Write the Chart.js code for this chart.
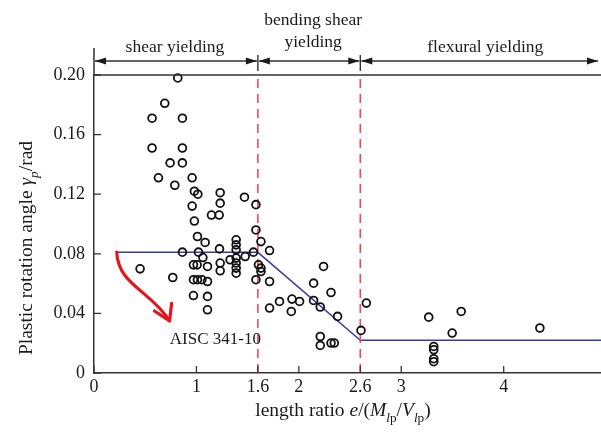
<!DOCTYPE html>
<html>
<head>
<meta charset="utf-8">
<script src="https://cdn.jsdelivr.net/npm/chart.js@4/dist/chart.umd.min.js"></script>
<style>
  html, body { margin: 0; padding: 0; background: #fff; }
  canvas { display: block; }
</style>
</head>
<body>
<canvas id="chart" width="601" height="432"></canvas>
<script>
// Link tests: length ratio e/(Mlp/Vlp) against plastic rotation angle (rad)
const testRatio = [
  0.818, 0.691, 0.567, 0.863, 0.567, 0.863, 0.743, 0.863, 0.629, 0.958,
  0.789, 0.980, 1.014, 1.232, 1.232, 1.469, 1.581, 0.958, 0.980, 1.147,
  1.222, 1.581, 1.010, 1.085, 1.388, 1.388, 1.388, 0.863, 1.020, 1.225,
  1.476, 1.557, 1.063, 1.329, 1.388, 1.388, 1.388, 1.388, 0.971, 1.007,
  1.108, 1.232, 1.232, 0.450, 0.769, 0.971, 1.010, 1.053, 1.108, 1.581,
  1.630, 1.606, 1.630, 0.971, 1.108, 1.108, 1.630, 1.714, 1.714, 2.241,
  2.144, 2.314, 1.714, 1.811, 1.933, 2.007, 1.926, 2.144, 2.209, 2.378,
  2.607, 2.659, 2.209, 2.209, 2.314, 2.346, 3.268, 3.585, 3.497, 3.317,
  3.317, 3.317, 3.317, 4.353
];
const testRotation = [
  0.198, 0.181, 0.171, 0.171, 0.151, 0.151, 0.141, 0.141, 0.131, 0.131,
  0.126, 0.122, 0.120, 0.121, 0.114, 0.118, 0.113, 0.112, 0.102, 0.106,
  0.106, 0.096, 0.0916, 0.0876, 0.0894, 0.086, 0.0827, 0.0811, 0.0811, 0.0833,
  0.0782, 0.0811, 0.0775, 0.076, 0.0771, 0.0738, 0.0704, 0.067, 0.0726, 0.0726,
  0.0715, 0.0738, 0.0686, 0.0699, 0.0641, 0.0626, 0.0626, 0.0626, 0.0614, 0.0626,
  0.0704, 0.0726, 0.0681, 0.052, 0.0514, 0.0424, 0.0882, 0.0822, 0.0614, 0.0715,
  0.0603, 0.054, 0.0436, 0.048, 0.0496, 0.048, 0.0413, 0.0487, 0.0443, 0.038,
  0.0286, 0.0469, 0.0245, 0.0185, 0.0201, 0.0201, 0.0375, 0.0413, 0.0268, 0.0178,
  0.0156, 0.0096, 0.0076, 0.0302
];

// AISC 341-10 link rotation limit
const aiscRatio = [0.22, 1.6, 2.6, 4.95];
const aiscRotation = [0.081, 0.081, 0.022, 0.022];

// Yielding-mode boundaries and axis ticks
const modeBounds = [1.6, 2.6];
const xTickValues = [0, 1, 1.6, 2, 2.6, 3, 4];
const yTickValues = [0, 0.04, 0.08, 0.12, 0.16, 0.20];
const X_MAX = 4.95, Y_MAX = 0.20;

// Yielding zones across the top: [from, to], label lines, label centre
const zoneSpans = [[0, 1.6], [1.6, 2.6], [2.6, X_MAX]];
const zoneLabels = [['shear yielding'], ['bending shear', 'yielding'], ['flexural yielding']];
const zoneLabelX = [0.79, 2.14, 3.82];

// Curved pointer to the AISC line (data units), and its caption
const pointerStart = [0.222, 0.0812];
const pointerCtrl1 = [0.235, 0.059];
const pointerCtrl2 = [0.547, 0.0557];
const pointerTip = [0.738, 0.0350];
const pointerBarbs = [[0.590, 0.0416], [0.758, 0.0468]];
const captionPos = [0.74, 0.0225];
const captionText = 'AISC 341-10';

const SERIF = "'Liberation Serif', 'Times New Roman', serif";
const INK = '#1a1a1a';

const testPoints = testRatio.map((r, i) => ({ x: r, y: testRotation[i] }));
const aiscPoints = aiscRatio.map((r, i) => ({ x: r, y: aiscRotation[i] }));

// Draw a run of styled pieces (italic / subscript) centred on (cx, cy)
function drawRich(ctx, pieces, cx, cy, size) {
  const fontOf = p => `${p.it ? 'italic ' : ''}${p.sub ? size * 0.68 : size}px ${SERIF}`;
  let total = 0;
  pieces.forEach(p => { ctx.font = fontOf(p); p.w = ctx.measureText(p.t).width; total += p.w; });
  let x = cx - total / 2;
  ctx.textAlign = 'left';
  ctx.textBaseline = 'alphabetic';
  const base = cy + size * 0.33;
  pieces.forEach(p => {
    ctx.font = fontOf(p);
    ctx.fillText(p.t, x, base + (p.sub ? size * 0.28 : 0));
    x += p.w;
  });
}

const decor = {
  id: 'decor',
  beforeDraw(chart) {
    const { ctx } = chart;
    ctx.save();
    ctx.fillStyle = '#fff';
    ctx.fillRect(0, 0, chart.width, chart.height);
    ctx.restore();
  },
  afterDraw(chart) {
    const { ctx, chartArea: a, scales: { x, y } } = chart;
    const px = v => x.getPixelForValue(v);
    const py = v => y.getPixelForValue(v);
    ctx.save();
    ctx.strokeStyle = '#333';
    ctx.fillStyle = INK;
    ctx.lineWidth = 1.5;

    // frame top and left axis extension
    ctx.beginPath();
    ctx.moveTo(a.left, a.top);
    ctx.lineTo(chart.width, a.top);
    ctx.moveTo(a.left, a.top);
    ctx.lineTo(a.left, a.top - 27);
    ctx.stroke();

    // inward tick marks
    ctx.lineWidth = 1.3;
    ctx.beginPath();
    yTickValues.forEach(v => { ctx.moveTo(a.left, py(v)); ctx.lineTo(a.left + 7, py(v)); });
    xTickValues.forEach(v => { ctx.moveTo(px(v), a.bottom); ctx.lineTo(px(v), a.bottom - 7); });
    ctx.stroke();

    // yielding zones with double arrows
    const arrowY = a.top - 14;
    ctx.lineWidth = 1.4;
    modeBounds.forEach(b => {
      ctx.beginPath();
      ctx.moveTo(px(b), arrowY - 6);
      ctx.lineTo(px(b), arrowY + 10);
      ctx.stroke();
    });
    const head = (tipX, dir) => {
      ctx.beginPath();
      ctx.moveTo(tipX, arrowY);
      ctx.lineTo(tipX + dir * 11, arrowY - 3.6);
      ctx.lineTo(tipX + dir * 11, arrowY + 3.6);
      ctx.closePath();
      ctx.fill();
    };
    zoneSpans.forEach(([f, t]) => {
      const l = px(f) + 1, r = Math.min(px(t), chart.width - 2) - 1;
      ctx.beginPath();
      ctx.moveTo(l, arrowY);
      ctx.lineTo(r, arrowY);
      ctx.stroke();
      head(l, 1);
      head(r, -1);
    });
    ctx.font = `17.5px ${SERIF}`;
    ctx.textAlign = 'center';
    ctx.textBaseline = 'middle';
    zoneLabels.forEach((lines, i) => {
      const cx = px(zoneLabelX[i]);
      const bottom = lines.length > 1 ? arrowY - 19 : arrowY - 14;
      lines.forEach((s, j) => {
        ctx.fillText(s, cx, bottom - (lines.length - 1 - j) * 21.5);
      });
    });

    // curved red pointer
    ctx.strokeStyle = '#e8141c';
    ctx.lineWidth = 3.2;
    ctx.lineCap = 'round';
    ctx.lineJoin = 'round';
    ctx.beginPath();
    ctx.moveTo(px(pointerStart[0]), py(pointerStart[1]));
    ctx.bezierCurveTo(px(pointerCtrl1[0]), py(pointerCtrl1[1]),
                      px(pointerCtrl2[0]), py(pointerCtrl2[1]),
                      px(pointerTip[0]), py(pointerTip[1]));
    ctx.stroke();
    ctx.beginPath();
    ctx.moveTo(px(pointerBarbs[0][0]), py(pointerBarbs[0][1]));
    ctx.lineTo(px(pointerTip[0]), py(pointerTip[1]));
    ctx.lineTo(px(pointerBarbs[1][0]), py(pointerBarbs[1][1]));
    ctx.stroke();

    ctx.fillStyle = INK;
    ctx.font = `17px ${SERIF}`;
    ctx.textAlign = 'left';
    ctx.textBaseline = 'middle';
    ctx.fillText(captionText, px(captionPos[0]), py(captionPos[1]));

    // axis titles
    drawRich(ctx, [
      { t: 'length ratio ' }, { t: 'e', it: true }, { t: '/(' },
      { t: 'M', it: true }, { t: 'l', it: true, sub: true }, { t: 'p', sub: true },
      { t: '/' },
      { t: 'V', it: true }, { t: 'l', it: true, sub: true }, { t: 'p', sub: true },
      { t: ')' }
    ], 343, 410, 19.5);

    ctx.save();
    ctx.translate(26, 248);
    ctx.rotate(-Math.PI / 2);
    drawRich(ctx, [
      { t: 'Plastic rotation angle ' }, { t: 'γ', it: true },
      { t: 'p', it: true, sub: true }, { t: '/rad' }
    ], 0, 0, 19.5);
    ctx.restore();

    ctx.restore();
  }
};

const tickFont = { family: SERIF, size: 18 };

new Chart(document.getElementById('chart'), {
  type: 'scatter',
  data: {
    datasets: [
      {
        type: 'line', data: aiscPoints, borderColor: '#3b3ba6', borderWidth: 1.5,
        pointRadius: 0, fill: false, tension: 0, order: 3
      },
      ...modeBounds.map(b => ({
        type: 'line', data: [{ x: b, y: 0 }, { x: b, y: Y_MAX }],
        borderColor: '#ec4a5a', borderWidth: 1.6, borderDash: [9, 6],
        pointRadius: 0, fill: false, order: 2
      })),
      {
        type: 'scatter', data: testPoints, pointStyle: 'circle', pointRadius: 3.9,
        borderColor: '#111', borderWidth: 1.8, backgroundColor: 'rgba(255,255,255,0)',
        clip: false, order: 1
      }
    ]
  },
  options: {
    responsive: false,
    animation: false,
    events: [],
    layout: { autoPadding: false, padding: { top: 75, right: 0, bottom: 0, left: 0 } },
    plugins: { legend: { display: false }, tooltip: { enabled: false }, title: { display: false } },
    scales: {
      x: {
        type: 'linear', min: 0, max: X_MAX,
        afterBuildTicks: s => { s.ticks = xTickValues.map(v => ({ value: v })); },
        afterFit: s => { s.height = 59; },
        grid: { display: false, drawTicks: false },
        border: { display: true, color: '#333', width: 1.5 },
        ticks: {
          autoSkip: false, maxRotation: 0, padding: 3, color: INK, font: tickFont,
          callback: v => String(v)
        }
      },
      y: {
        type: 'linear', min: 0, max: Y_MAX,
        afterBuildTicks: s => { s.ticks = yTickValues.map(v => ({ value: v })); },
        afterFit: s => { s.width = 94; },
        grid: { display: false, drawTicks: false },
        border: { display: true, color: '#333', width: 1.5 },
        ticks: {
          padding: 9, color: INK, font: tickFont,
          callback: v => (v === 0 ? '0' : v.toFixed(2))
        }
      }
    }
  },
  plugins: [decor]
});
</script>
</body>
</html>
